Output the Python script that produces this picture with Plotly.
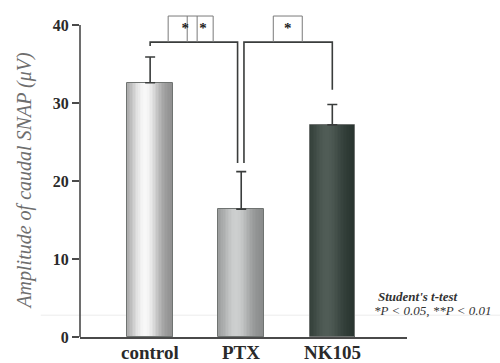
import numpy as np
import plotly.graph_objects as go

# ---- data ----
groups = ["control", "PTX", "NK105"]
means = [32.6, 16.4, 27.2]
sem = [3.3, 4.8, 2.6]
y_ticks = [0, 10, 20, 30, 40]

# significance brackets: (left x, right x, bracket height, left leg end, right leg end)
brackets = [
    (0, 0.96, 37.8, 37.3, 22.3),
    (1.03, 2, 37.8, 22.3, 31.7),
]

SERIF = "Liberation Serif, Times New Roman, serif"
BAR_W = 0.5
x_pos = np.arange(len(groups))

# edge colour / highlight colour per bar (cylinder-like shading)
edge_rgb = [(140, 140, 140), (135, 137, 137), (40, 52, 47)]
peak_rgb = [(248, 248, 248), (205, 207, 207), (80, 92, 86)]

fig = go.Figure()

# shaded bars: vertical strips laid left to right, each overlapping the rest
N = 30
for i in range(N):
    t = (i + 0.5) / N
    f = np.exp(-((t - 0.38) / 0.34) ** 2)
    cols = []
    for e, p in zip(edge_rgb, peak_rgb):
        c = [int(round(a + (b - a) * f)) for a, b in zip(e, p)]
        cols.append(f"rgb({c[0]},{c[1]},{c[2]})")
    off = -BAR_W / 2 + i * BAR_W / N
    fig.add_trace(go.Bar(
        x=x_pos, y=means, width=BAR_W / 2 - off, offset=off,
        marker=dict(color=cols, line=dict(width=0)),
        hoverinfo="skip", showlegend=False,
    ))

# bar outlines with upward error bars
fig.add_trace(go.Bar(
    x=x_pos, y=means, width=BAR_W,
    marker=dict(color="rgba(0,0,0,0)", line=dict(color="#6f7371", width=1)),
    error_y=dict(type="data", symmetric=False, array=sem, arrayminus=[0] * len(sem),
                 color="#3a3d3c", thickness=1.6, width=5),
    hoverinfo="skip", showlegend=False,
))

# brackets
for xl, xr, yb, yl, yr in brackets:
    fig.add_trace(go.Scatter(
        x=[xl, xl, xr, xr], y=[yl, yb, yb, yr], mode="lines",
        line=dict(color="#3a3d3c", width=1.6),
        hoverinfo="skip", showlegend=False,
    ))

# significance boxes above the brackets
box_color = "#7a7a7a"
box_top = 41.15
fig.add_trace(go.Scatter(
    x=[0.198, 0.198, 0.692, 0.692, None, 0.407, 0.407, None, 0.516, 0.516,
       None, 1.352, 1.352, 1.670, 1.670],
    y=[37.8, box_top, box_top, 37.8, None, 37.8, box_top, None, 37.8, box_top,
       None, 37.8, box_top, box_top, 37.8],
    mode="lines", line=dict(color=box_color, width=1),
    hoverinfo="skip", showlegend=False,
))
fig.add_trace(go.Scatter(
    x=[0.385, 0.58, 1.511], y=[39.4, 39.4, 39.4], mode="text", text=["*", "*", "*"],
    textfont=dict(family=SERIF, size=15, color="#222", weight="bold"),
    cliponaxis=False, hoverinfo="skip", showlegend=False,
))

# group labels under the bars
group_labels = [
    dict(text=g, xref="x", yref="paper", x=float(xp), y=-0.047,
         xanchor="center", yanchor="middle", showarrow=False,
         font=dict(family=SERIF, size=19, color="#2a2a2a", weight="bold"))
    for g, xp in zip(groups, x_pos)
]

fig.update_layout(
    width=500, height=363,
    margin=dict(l=80, r=93, t=9, b=26),
    paper_bgcolor="white", plot_bgcolor="white",
    barmode="overlay", bargap=0,
    xaxis=dict(
        range=[-0.77, 2.82], tickvals=list(x_pos), showticklabels=False,
        showline=True, linecolor="#4a4a4a", linewidth=1.6,
        ticks="", showgrid=False, zeroline=False, automargin=False,
    ),
    yaxis=dict(
        range=[0, 42.05], tickvals=y_ticks,
        showline=False,
        ticks="outside", ticklen=7, tickwidth=1.6, tickcolor="#4a4a4a",
        showgrid=False, zeroline=False, automargin=False,
        tickfont=dict(family=SERIF, size=16, color="#2a2a2a", weight="bold"),
    ),
    shapes=[
        dict(type="line", xref="paper", yref="y", x0=-0.12, x1=1.3, y0=2.8, y1=2.8,
             line=dict(color="#ececec", width=1), layer="below"),
        # value axis line, stopping at the top tick
        dict(type="line", xref="paper", yref="y", x0=0, x1=0, y0=0, y1=40,
             line=dict(color="#4a4a4a", width=1.6)),
    ],
    annotations=group_labels + [
        dict(text="Amplitude of caudal SNAP (μV)", textangle=-90,
             xref="paper", yref="paper", x=-0.169, y=0.476, xanchor="center", yanchor="middle",
             showarrow=False,
             font=dict(family=SERIF, size=20, color="#6e6e6e", style="italic")),
        dict(text="Student's t-test", xref="paper", yref="y", x=0.905, y=5.2,
             xanchor="left", yanchor="middle", showarrow=False,
             font=dict(family=SERIF, size=13, color="#333", style="italic", weight="bold")),
        dict(text="*P < 0.05, **P < 0.01", xref="paper", yref="y", x=0.893, y=3.4,
             xanchor="left", yanchor="middle", showarrow=False,
             font=dict(family=SERIF, size=13, color="#333", style="italic")),
    ],
)

fig.write_html("out.html")
